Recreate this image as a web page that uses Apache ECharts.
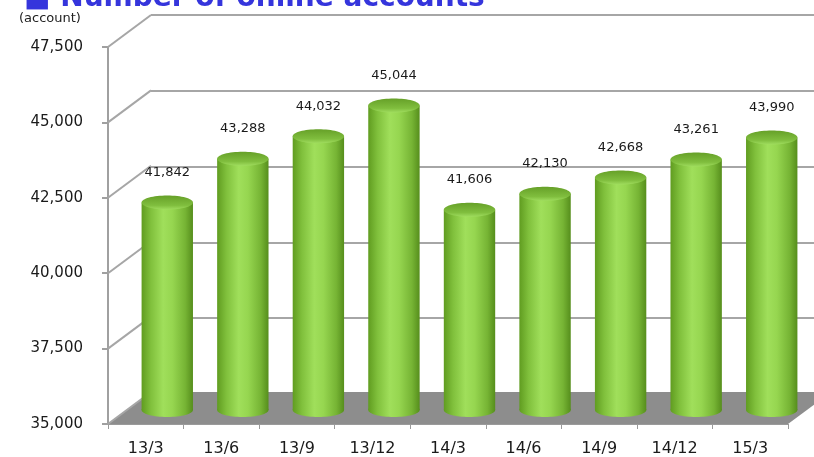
<!DOCTYPE html>
<html>
<head>
<meta charset="utf-8">
<script src="https://cdn.jsdelivr.net/npm/echarts@6/dist/echarts.min.js"></script>
<style>
  html, body { margin: 0; padding: 0; background: #fff; }
  #chart { width: 814px; height: 457px; }
</style>
</head>
<body>
<div id="chart"></div>
<script>
// Quarter-end labels and online account counts
const categories = ['13/3', '13/6', '13/9', '13/12', '14/3', '14/6', '14/9', '14/12', '15/3'];
const accounts = [41842, 43288, 44032, 45044, 41606, 42130, 42668, 43261, 43990];
const yMin = 35000;
const yMax = 47500;
const yStep = 2500;
const yTicks = [35000, 37500, 40000, 42500, 45000, 47500];

// Depth of the pseudo-3D box (back wall offset from the front plane)
const DX = 43, DY = -32;
const FONT = '"DejaVu Sans", Verdana, sans-serif';
const GRID_COLOR = '#a6a6a6';

const fmt = v => v.toLocaleString('en-US');

const chart = echarts.init(document.getElementById('chart'), null, { renderer: 'canvas' });

// Front plane grid geometry
const front = { left: 108, right: 26, top: 47, bottom: 31 };

function cylinder(params, api) {
  const idx = api.value(0);
  const val = api.value(1);
  const top = api.coord([idx, val]);
  const base = api.coord([idx, yMin]);
  const w = api.size([1, 0])[0] * 0.68;
  const rx = w / 2, ry = 7;
  const cx = top[0];
  const bodyFill = {
    type: 'linear', x: 0, y: 0, x2: 1, y2: 0,
    colorStops: [
      { offset: 0, color: '#609c20' },
      { offset: 0.18, color: '#80c03c' },
      { offset: 0.42, color: '#a0df5b' },
      { offset: 0.6, color: '#96d650' },
      { offset: 0.85, color: '#76b434' },
      { offset: 1, color: '#568e1c' }
    ]
  };
  return {
    type: 'group',
    children: [
      { type: 'ellipse', shape: { cx: cx, cy: base[1], rx: rx, ry: ry }, style: { fill: bodyFill } },
      { type: 'rect', shape: { x: cx - rx, y: top[1], width: w, height: base[1] - top[1] }, style: { fill: bodyFill } },
      {
        type: 'ellipse', shape: { cx: cx, cy: top[1], rx: rx, ry: ry },
        style: {
          fill: {
            type: 'linear', x: 0, y: 0, x2: 0, y2: 1,
            colorStops: [
              { offset: 0, color: '#66a028' },
              { offset: 0.7, color: '#80be3e' },
              { offset: 1, color: '#9fdc5e' }
            ]
          }
        }
      },
      {
        type: 'text',
        style: {
          text: fmt(val), x: cx, y: top[1] - 30,
          align: 'center', verticalAlign: 'middle',
          font: '13px ' + FONT, fill: '#1a1a1a'
        }
      }
    ]
  };
}

const option = {
  animation: false,
  backgroundColor: '#ffffff',
  graphic: [
    {
      type: 'text', left: 24, top: -15,
      style: { text: '\u25A0 Number of online accounts', font: 'bold 28px ' + FONT, fill: '#3535dc' }
    },
    {
      type: 'text', left: 19, top: 12,
      style: { text: '(account)', font: '13px ' + FONT, fill: '#222' }
    }
  ],
  grid: [
    { left: front.left, right: front.right, top: front.top, bottom: front.bottom },
    { left: front.left + DX, right: front.right - DX, top: front.top + DY, bottom: front.bottom - DY },
    { left: front.left + DX / 2, right: front.right - DX / 2, top: front.top + DY / 2, bottom: front.bottom - DY / 2 }
  ],
  xAxis: [
    {
      gridIndex: 0, type: 'category', data: categories,
      axisLine: { show: true, lineStyle: { color: '#9a9a9a', width: 1 } },
      axisTick: { show: true, length: 5, lineStyle: { color: '#9a9a9a' } },
      axisLabel: { margin: 17, fontSize: 16, fontFamily: FONT, color: '#1a1a1a' }
    },
    { gridIndex: 1, type: 'category', data: categories, show: false },
    { gridIndex: 2, type: 'category', data: categories, show: false }
  ],
  yAxis: [
    {
      gridIndex: 0, type: 'value', min: yMin, max: yMax, interval: yStep,
      axisLine: { show: true, lineStyle: { color: '#a0a0a0', width: 2 } },
      axisTick: { show: true, length: 6, lineStyle: { color: '#a0a0a0', width: 2 } },
      axisLabel: { margin: 25, fontSize: 15, fontFamily: FONT, color: '#1a1a1a', formatter: v => fmt(v) },
      splitLine: { show: false }
    },
    {
      gridIndex: 1, type: 'value', min: yMin, max: yMax, interval: yStep,
      axisLine: { show: false }, axisTick: { show: false }, axisLabel: { show: false },
      splitLine: { show: true, lineStyle: { color: GRID_COLOR, width: 2 } }
    },
    {
      gridIndex: 2, type: 'value', min: yMin, max: yMax, interval: yStep, show: false,
      splitLine: { show: false }
    }
  ],
  series: [
    {
      // floor of the box
      type: 'custom', xAxisIndex: 0, yAxisIndex: 0, z: 1, silent: true,
      data: [[0, yMin]],
      renderItem: (params, api) => {
        const cs = params.coordSys;
        const y0 = api.coord([0, yMin])[1];
        return {
          type: 'polygon',
          shape: {
            points: [
              [cs.x, y0], [cs.x + cs.width, y0],
              [cs.x + cs.width + DX, y0 + DY], [cs.x + DX, y0 + DY]
            ]
          },
          style: { fill: '#8d8d8d' }
        };
      }
    },
    {
      // side-wall lines joining the front axis ticks to the back gridlines
      type: 'custom', xAxisIndex: 0, yAxisIndex: 0, z: 2, silent: true,
      data: yTicks.map(v => [0, v]),
      renderItem: (params, api) => {
        const cs = params.coordSys;
        const y = api.coord([0, api.value(1)])[1];
        return {
          type: 'line',
          shape: { x1: cs.x, y1: y, x2: cs.x + DX, y2: y + DY },
          style: { stroke: GRID_COLOR, lineWidth: 2 }
        };
      }
    },
    {
      // cylinder bars
      type: 'custom', xAxisIndex: 2, yAxisIndex: 2, z: 5, silent: true,
      data: accounts.map((v, i) => [i, v]),
      renderItem: cylinder
    }
  ]
};

chart.setOption(option);
</script>
</body>
</html>
